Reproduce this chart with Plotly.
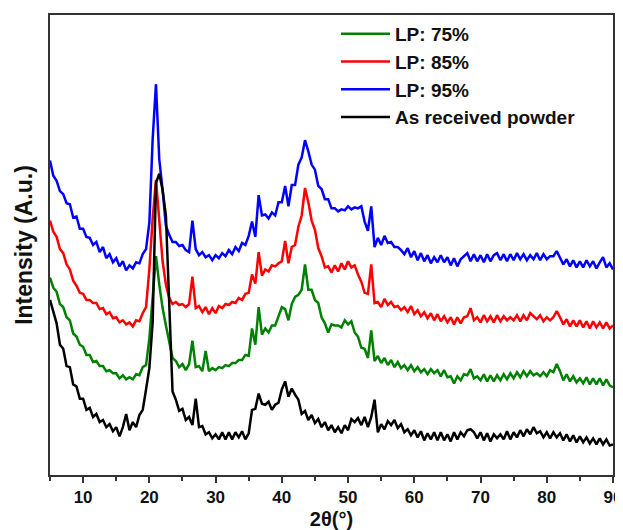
import plotly.graph_objects as go

# 2-theta grid (degrees), 0.5 deg step from 5 to 90
two_theta = [5 + 0.5 * i for i in range(171)]

lp75 = [194, 184, 180, 168, 165, 155, 152, 139, 136, 128, 126, 118, 118, 111, 112, 107, 107, 102, 103, 100,
        100, 95, 98, 94, 96, 94, 99, 98, 106, 108, 134, 177, 215, 187, 164, 147, 132, 115, 112, 106,
        109, 103, 109, 132, 106, 107, 102, 122, 102, 105, 103, 106, 105, 108, 107, 110, 110, 113, 113, 118,
        117, 144, 128, 165, 138, 144, 140, 147, 147, 157, 165, 163, 152, 168, 175, 177, 182, 207, 182, 182,
        172, 169, 155, 149, 140, 148, 147, 147, 145, 152, 148, 151, 140, 136, 125, 124, 115, 142, 112, 117,
        110, 115, 108, 113, 106, 111, 105, 108, 103, 108, 102, 106, 101, 104, 99, 104, 100, 103, 97, 103,
        96, 97, 90, 97, 93, 99, 98, 104, 95, 97, 93, 99, 92, 98, 92, 98, 93, 99, 94, 100,
        95, 101, 96, 102, 97, 102, 98, 100, 97, 101, 97, 103, 101, 109, 102, 93, 99, 92, 97, 91,
        95, 90, 96, 89, 95, 89, 95, 88, 94, 88, 86]

lp85 = [250, 239, 234, 222, 218, 207, 202, 191, 186, 179, 178, 172, 172, 169, 169, 163, 164, 158, 160, 154,
        155, 150, 152, 148, 150, 146, 152, 151, 159, 165, 202, 252, 290, 254, 210, 187, 174, 168, 170, 167,
        168, 165, 168, 195, 164, 166, 160, 165, 158, 164, 159, 166, 164, 168, 167, 170, 169, 174, 172, 178,
        179, 197, 188, 219, 196, 202, 200, 206, 205, 208, 210, 230, 208, 224, 226, 244, 255, 282, 268, 250,
        241, 223, 215, 204, 205, 199, 206, 200, 208, 202, 210, 204, 206, 197, 190, 179, 178, 207, 169, 170,
        165, 173, 167, 170, 165, 166, 162, 165, 160, 166, 158, 162, 156, 160, 154, 159, 152, 158, 151, 156,
        150, 155, 148, 155, 149, 155, 156, 164, 152, 155, 150, 157, 151, 156, 150, 157, 151, 156, 152, 155,
        152, 157, 151, 157, 152, 159, 156, 153, 157, 151, 155, 152, 155, 161, 155, 148, 153, 146, 152, 146,
        152, 145, 151, 144, 151, 145, 150, 144, 150, 144, 147]

lp95 = [309, 294, 289, 279, 276, 267, 266, 253, 254, 242, 242, 234, 233, 226, 229, 219, 224, 213, 217, 209,
        213, 205, 210, 201, 206, 203, 209, 208, 217, 222, 248, 330, 384, 310, 280, 245, 236, 229, 229, 225,
        226, 221, 219, 250, 222, 216, 219, 214, 216, 211, 216, 213, 218, 215, 221, 217, 224, 220, 228, 226,
        235, 249, 234, 275, 255, 256, 252, 258, 255, 268, 268, 284, 264, 285, 285, 305, 312, 329, 318, 305,
        300, 284, 281, 271, 271, 262, 262, 259, 261, 260, 264, 261, 263, 262, 264, 249, 240, 264, 224, 233,
        226, 235, 228, 229, 224, 224, 221, 217, 223, 214, 220, 211, 218, 210, 216, 208, 214, 209, 216, 209,
        214, 206, 213, 205, 212, 215, 218, 210, 217, 210, 216, 209, 217, 210, 216, 218, 211, 217, 210, 217,
        211, 218, 212, 217, 211, 216, 212, 218, 211, 217, 212, 215, 215, 220, 214, 207, 212, 205, 211, 204,
        210, 204, 211, 205, 210, 203, 209, 214, 204, 208, 202]

as_received = [172, 160, 149, 128, 124, 107, 106, 89, 87, 75, 75, 64, 66, 57, 60, 52, 54, 47, 50, 43,
               47, 38, 47, 60, 44, 52, 47, 59, 64, 84, 105, 150, 287, 296, 280, 255, 160, 82, 74, 63,
               65, 54, 57, 49, 75, 47, 48, 40, 42, 36, 40, 35, 42, 35, 42, 35, 42, 37, 43, 35,
               41, 64, 65, 80, 70, 69, 72, 64, 69, 71, 84, 92, 77, 85, 79, 74, 60, 63, 54, 59,
               51, 55, 47, 52, 44, 49, 42, 47, 41, 49, 44, 55, 52, 56, 49, 57, 47, 57, 74, 42,
               50, 45, 53, 49, 54, 46, 50, 42, 45, 39, 44, 37, 43, 34, 41, 35, 42, 34, 42, 34,
               40, 33, 42, 35, 42, 38, 44, 45, 42, 36, 42, 34, 41, 33, 40, 36, 40, 35, 43, 35,
               42, 37, 44, 38, 45, 40, 47, 41, 43, 37, 42, 36, 42, 37, 41, 34, 40, 33, 39, 32,
               38, 32, 37, 31, 36, 30, 36, 30, 35, 29, 30]

series_names = ["LP: 75%", "LP: 85%", "LP: 95%", "As received powder"]
series_values = [lp75, lp85, lp95, as_received]
series_colors = ["#008000", "#ff0000", "#0000ff", "#000000"]

x_tick_vals = [10, 20, 30, 40, 50, 60, 70, 80, 90]
x_tick_text = [str(v) for v in x_tick_vals]

FONT = "Liberation Sans, Arial, sans-serif"

fig = go.Figure()
for name, vals, col in zip(series_names, series_values, series_colors):
    assert len(vals) == len(two_theta), (name, len(vals))
    fig.add_trace(go.Scatter(x=two_theta, y=vals, mode="lines", name=name,
                             line=dict(color=col, width=2.5)))

# the page body adds an 8px margin, so the figure is offset to land on the 623x530 window
fig.update_layout(
    width=623, height=522,
    margin=dict(l=42, r=18, t=7, b=55),
    paper_bgcolor="white", plot_bgcolor="white",
    font=dict(family=FONT, color="#111111"),
    showlegend=True,
    legend=dict(x=0.508, y=1.0, xanchor="left", yanchor="top",
                bgcolor="rgba(0,0,0,0)", borderwidth=0,
                font=dict(family=FONT, size=19, color="#111111", weight="bold"),
                itemwidth=49, tracegroupgap=0),
    xaxis=dict(range=[5, 90], tickvals=x_tick_vals, ticktext=x_tick_text,
               ticks="outside", ticklen=6, tickwidth=1.5, tickcolor="#333333",
               minor=dict(dtick=5, tick0=5, ticks="outside", ticklen=4, tickwidth=1.5, tickcolor="#333333"),
               showline=True, linecolor="#333333", linewidth=1.5, mirror=True,
               showgrid=False, zeroline=False, automargin=False,
               tickfont=dict(family=FONT, size=17, color="#111111", weight="bold"),
               title=dict(text="2θ(°)", standoff=12,
                          font=dict(family=FONT, size=20, color="#111111", weight="bold"))),
    yaxis=dict(range=[0, 452], showticklabels=False, ticks="",
               showline=True, linecolor="#333333", linewidth=1.5, mirror=True,
               showgrid=False, zeroline=False, automargin=False,
               title=dict(text="Intensity (A.u.)", standoff=9,
                          font=dict(family=FONT, size=23, color="#111111", weight="bold"))),
)

fig.write_html("out.html")
